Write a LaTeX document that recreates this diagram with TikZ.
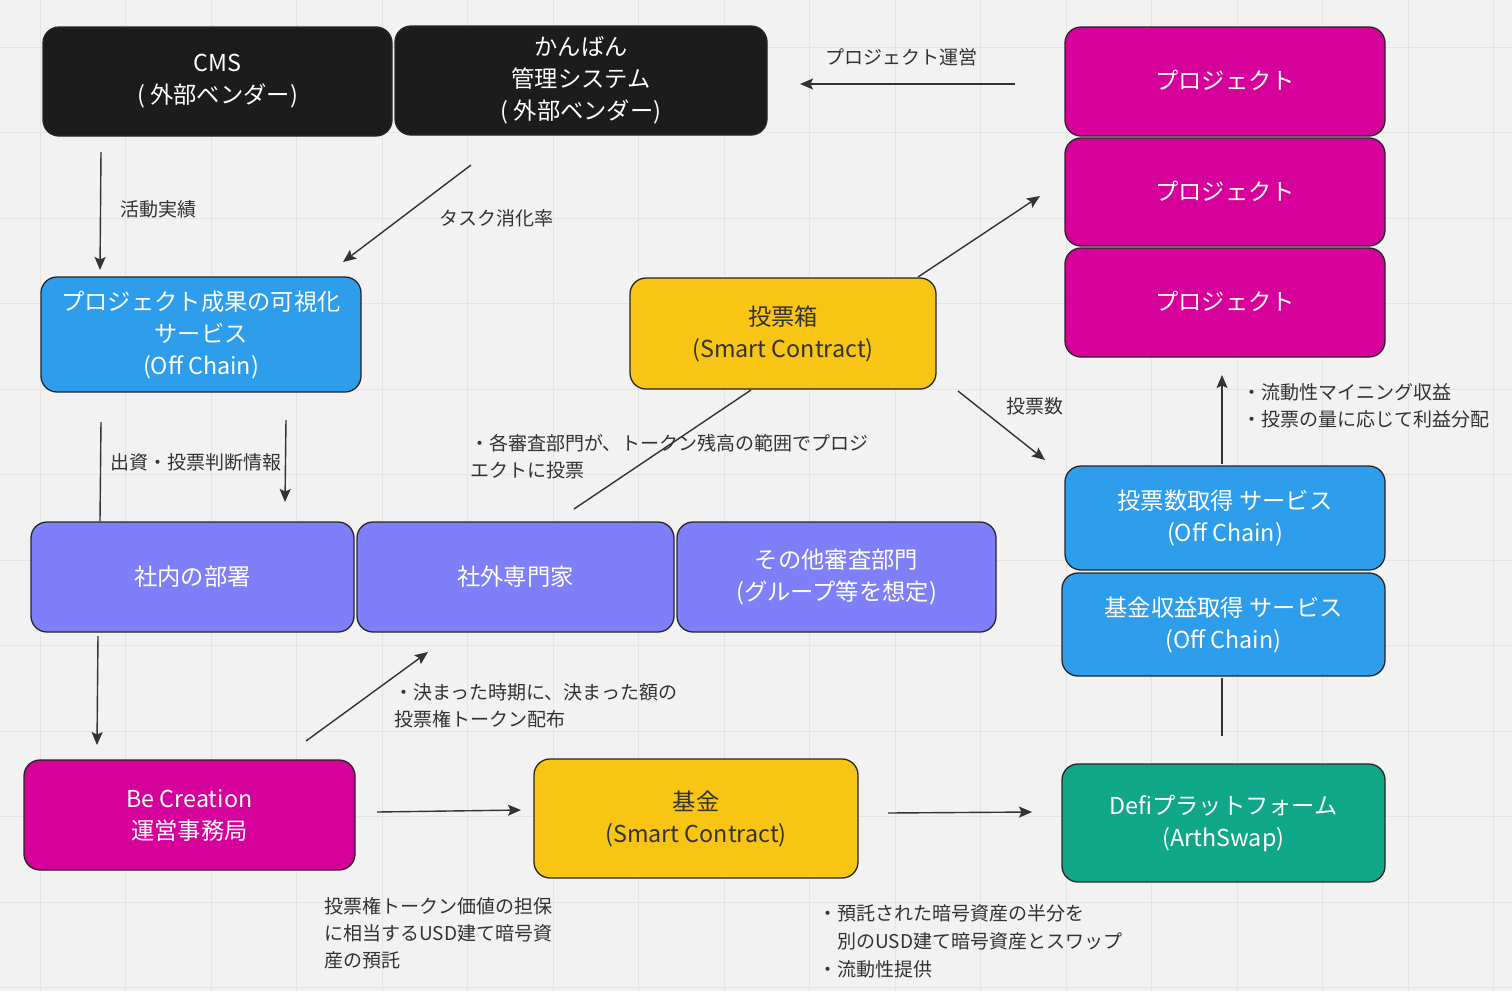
\documentclass[tikz,border=0pt]{standalone}
\usepackage{fontspec}
\setmainfont{Noto Sans CJK JP}
\usetikzlibrary{arrows.meta}
\definecolor{bgc}{HTML}{F2F2F2}
\definecolor{gridc}{HTML}{E4E4E4}
\definecolor{inkc}{HTML}{333333}
\definecolor{edgec}{HTML}{262626}
\definecolor{blackbox}{HTML}{1C1C1C}
\definecolor{magbox}{HTML}{D6009A}
\definecolor{bluebox}{HTML}{2E9DEC}
\definecolor{yelbox}{HTML}{F8C514}
\definecolor{purbox}{HTML}{7F80F9}
\definecolor{tealbox}{HTML}{10A788}
\tikzset{
  card/.style={draw=edgec, line width=1.3pt, rounded corners=16pt, align=center,
    inner sep=0pt, outer sep=0pt, text=white,
    font=\fontsize{23.3}{32}\selectfont},
  darkcard/.style={card, fill=blackbox},
  magcard/.style={card, fill=magbox},
  bluecard/.style={card, fill=bluebox},
  yelcard/.style={card, fill=yelbox, text=inkc},
  purcard/.style={card, fill=purbox},
  tealcard/.style={card, fill=tealbox},
  note/.style={anchor=north west, align=left, inner sep=0pt, text=inkc,
    font=\fontsize{19}{27}\selectfont},
  link/.style={draw=inkc, line width=1.4pt},
  flow/.style={link, -{Stealth[length=13pt, width=11pt, inset=2.5pt]}},
  gridline/.style={draw=gridc, line width=0.8pt}
}
\begin{document}
\begin{tikzpicture}[x=1pt, y=-1pt]
\useasboundingbox (0,0) rectangle (1512,991);
% canvas and faint grid
\fill[bgc] (0,0) rectangle (1512,991);
\foreach \i in {0,...,17} \draw[gridline] ({40+85.5*\i},0) -- ({40+85.5*\i},991);
\foreach \j in {0,...,11} \draw[gridline] (0,{47+85.5*\j}) -- (1512,{47+85.5*\j});

% top row: external systems and projects
\node[darkcard, minimum width=349pt, minimum height=109pt] (cms) at (217.5,81.5) {CMS\\( 外部ベンダー)};
\node[darkcard, minimum width=372pt, minimum height=109pt] (kanban) at (581,80.5) {かんばん\\管理システム\\( 外部ベンダー)};
\node[magcard, minimum width=320pt, minimum height=109pt] (projA) at (1225,81.5) {\raisebox{3pt}{プロジェクト}};
\node[magcard, minimum width=320pt, minimum height=108pt] (projB) at (1225,192) {\raisebox{3pt}{プロジェクト}};
\node[magcard, minimum width=320pt, minimum height=109pt] (projC) at (1225,302.5) {\raisebox{3pt}{プロジェクト}};

% middle: visualisation service and ballot box
\node[bluecard, minimum width=320pt, minimum height=115pt] (visual) at (201,334.5) {プロジェクト成果の可視化\\サービス\\(Off Chain)};
\node[yelcard, minimum width=306pt, minimum height=111pt] (ballot) at (783,333.5) {投票箱\\(Smart Contract)};

% reviewers
\node[purcard, minimum width=323pt, minimum height=110pt] (inhouse) at (192.5,577) {\raisebox{2pt}{社内の部署}};
\node[purcard, minimum width=317pt, minimum height=110pt] (expert) at (515.5,577) {\raisebox{2pt}{社外専門家}};
\node[purcard, minimum width=319pt, minimum height=110pt] (otherdept) at (836.5,577) {その他審査部門\\(グループ等を想定)};

% off-chain services on the right
\node[bluecard, minimum width=320pt, minimum height=104pt] (votecount) at (1225,518) {投票数取得 サービス\\(Off Chain)};
\node[bluecard, minimum width=323pt, minimum height=103pt] (income) at (1223.5,624.5) {基金収益取得 サービス\\(Off Chain)};

% bottom row
\node[magcard, minimum width=331pt, minimum height=110pt] (office) at (189.5,815) {Be Creation\\運営事務局};
\node[yelcard, minimum width=324pt, minimum height=119pt] (fund) at (696,818.5) {基金\\(Smart Contract)};
\node[tealcard, minimum width=323pt, minimum height=118pt] (defi) at (1223.5,823) {Defiプラットフォーム\\(ArthSwap)};

% connector end points
\coordinate (cmsOut) at (101,152);
\coordinate (visIn) at (100,270);
\coordinate (kanOut) at (471,165);
\coordinate (visIn2) at (343,262);
\coordinate (projOut) at (1015,84);
\coordinate (kanIn) at (800,84);
\coordinate (visOutL) at (101,422);
\coordinate (inhouseInL) at (100,521);
\coordinate (visOutR) at (286,420);
\coordinate (inhouseInR) at (285,502);
\coordinate (inhouseOut) at (98,636);
\coordinate (officeIn) at (97,745);
\coordinate (officeOutA) at (306,741);
\coordinate (expertIn) at (428,652);
\coordinate (officeOutB) at (377,812);
\coordinate (fundIn) at (521,810);
\coordinate (fundOut) at (888,813);
\coordinate (defiIn) at (1032,812);
\coordinate (defiOut) at (1222,736);
\coordinate (incomeIn) at (1222,678);
\coordinate (countOut) at (1222,464);
\coordinate (projCIn) at (1222,375);
\coordinate (expertOut) at (574,509);
\coordinate (ballotIn) at (751,390);
\coordinate (ballotOutA) at (918,277);
\coordinate (projBIn) at (1040,196);
\coordinate (ballotOutB) at (958,391);
\coordinate (countIn) at (1045,460);

% connectors
\draw[flow] (cmsOut) -- (visIn);
\draw[flow] (kanOut) -- (visIn2);
\draw[flow] (projOut) -- (kanIn);
\draw[link] (visOutL) -- (inhouseInL);
\draw[flow] (visOutR) -- (inhouseInR);
\draw[flow] (inhouseOut) -- (officeIn);
\draw[flow] (officeOutA) -- (expertIn);
\draw[flow] (officeOutB) -- (fundIn);
\draw[flow] (fundOut) -- (defiIn);
\draw[link] (defiOut) -- (incomeIn);
\draw[flow] (countOut) -- (projCIn);
\draw[link] (expertOut) -- (ballotIn);
\draw[flow] (ballotOutA) -- (projBIn);
\draw[flow] (ballotOutB) -- (countIn);

% labels
\node[note] (lbActivity) at (120,200) {活動実績};
\node[note] (lbTasks) at (439,209) {タスク消化率};
\node[note] (lbRun) at (825,48) {プロジェクト運営};
\node[note] (lbInvest) at (110,453) {出資・投票判断情報};
\node[note] (lbVotes) at (1006,397) {投票数};
\node[note] (lbYield) at (1242,383) {・流動性マイニング収益\\・投票の量に応じて利益分配};
\node[note] (lbReview) at (470,434) {・各審査部門が、トークン残高の範囲でプロジ\\エクトに投票};
\node[note] (lbIssue) at (394,683) {・決まった時期に、決まった額の\\投票権トークン配布};
\node[note] (lbDeposit) at (324,897) {投票権トークン価値の担保\\に相当するUSD建て暗号資\\産の預託};
\node[note, font=\fontsize{19}{28}\selectfont] (lbSwap) at (818,904) {・預託された暗号資産の半分を\\\hspace*{19pt}別のUSD建て暗号資産とスワップ\\・流動性提供};
\end{tikzpicture}
\end{document}
